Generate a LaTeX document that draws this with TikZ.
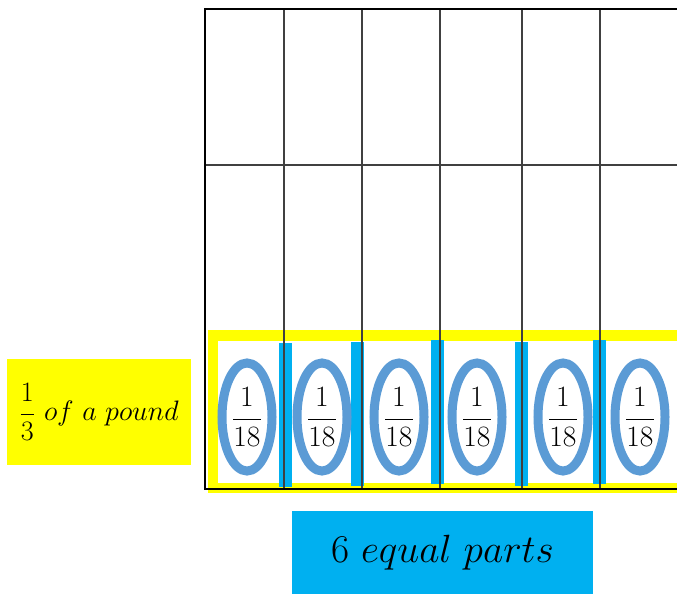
\documentclass[tikz,border=0pt]{standalone}
\usepackage{fix-cm}
\usetikzlibrary{shapes.geometric}
\definecolor{padyellow}{HTML}{FFFF00}
\definecolor{barcyan}{HTML}{00B0F0}
\definecolor{ringblue}{HTML}{5B9BD5}
\tikzset{
	gridline/.style={color=black!75, line width=0.8pt},
	boxline/.style={color=black, line width=1.6pt},
	part/.style={ellipse, draw=ringblue, line width=6.4pt, minimum width=1.25cm, minimum height=2.7cm, inner sep=0pt, font=\fontsize{21}{24}\selectfont},
	bar/.style={fill=barcyan, minimum width=0.325cm, minimum height=3.6cm, inner sep=0pt},
	tag/.style={inner sep=0pt, text centered}
}

\begin{document}
\begin{tikzpicture}[x=0.025cm, y=-0.025cm]
		\useasboundingbox (0,0) rectangle (677,594);
		
		%%%third of a pound
		\draw[padyellow, line width=7.8pt] (213,335.5) rectangle (684,488);
		
		\node[bar] (b1) at (285.5,415) {};
		\node[bar] (b2) at (357.5,414) {};
		\node[bar] (b3) at (437.5,412) {};
		\node[bar] (b4) at (521.5,414) {};
		\node[bar] (b5) at (599.5,412) {};
		
		\node[part] (p1) at (247,417) {$\displaystyle\frac{1}{18}$};
		\node[part] (p2) at (322,417) {$\displaystyle\frac{1}{18}$};
		\node[part] (p3) at (399,417) {$\displaystyle\frac{1}{18}$};
		\node[part] (p4) at (477,417) {$\displaystyle\frac{1}{18}$};
		\node[part] (p5) at (563,417) {$\displaystyle\frac{1}{18}$};
		\node[part] (p6) at (640,417) {$\displaystyle\frac{1}{18}$};
		
		%%%pound
		\draw[gridline] (284,9) -- (284,489);
		\draw[gridline] (362,9) -- (362,489);
		\draw[gridline] (440,9) -- (440,489);
		\draw[gridline] (522,9) -- (522,489);
		\draw[gridline] (600,9) -- (600,489);
		\draw[gridline] (205,165) -- (684,165);
		\draw[boxline] (684,9) -- (205,9) -- (205,489) -- (684,489);
		
		%%%labels
		\node[tag, fill=padyellow, minimum width=4.6cm, minimum height=2.65cm, font=\fontsize{20}{24}\selectfont] (third) at (99,412) {$\displaystyle\frac{1}{3}\ of\ a\ pound$};
		\node[tag, fill=barcyan, minimum width=7.525cm, minimum height=2.075cm, font=\fontsize{28}{32}\selectfont] (parts) at (442.5,552.5) {$6\ equal\ parts$};
		
		%\draw[red] (third) -- (p1);
	\end{tikzpicture}
\end{document}
